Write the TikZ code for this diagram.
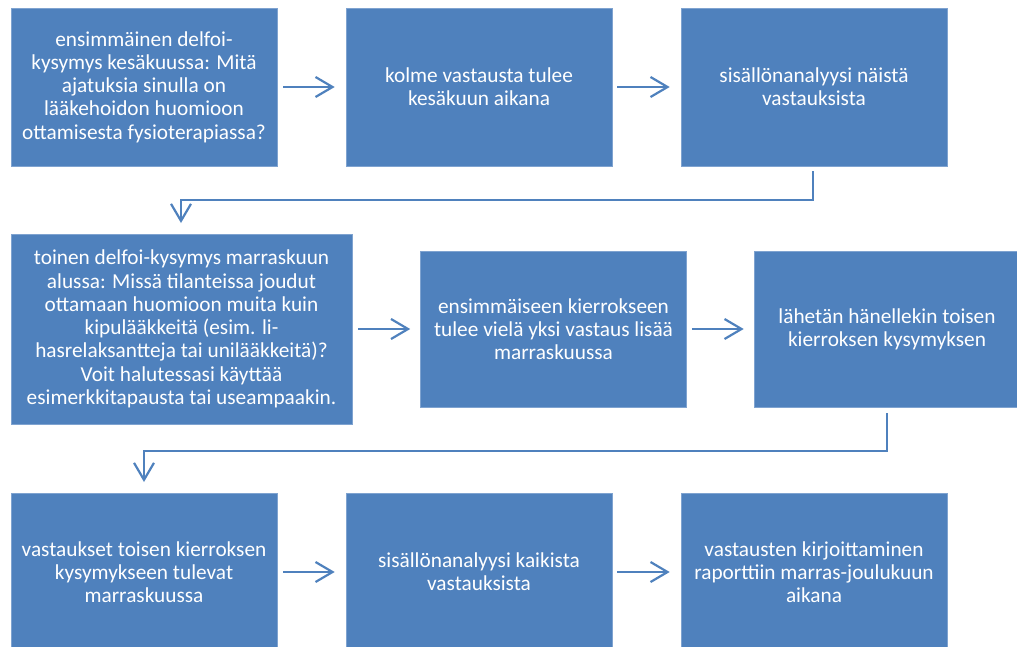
\documentclass[tikz,border=0pt]{standalone}
\usepackage{fontspec}
\setmainfont{Carlito}
\usetikzlibrary{arrows.meta}
\definecolor{boxblue}{HTML}{4F81BD}
\definecolor{boxedge}{HTML}{7FA3D0}
\tikzset{
  flowbox/.style={fill=boxblue, draw=boxedge, line width=0.6pt, text=white, align=center,
    font=\fontsize{21.3}{23.3}\selectfont, inner sep=0pt},
  flowarrow/.style={draw=boxblue, line width=2.2pt, -{Straight Barb[length=17pt,width=20pt,line width=2.2pt]}},
  flowline/.style={draw=boxblue, line width=2.2pt},
}
\begin{document}
\begin{tikzpicture}[x=1pt,y=-1pt]
\useasboundingbox (0,0) rectangle (1017,646);
\begin{scope}
\clip (0,0) rectangle (1017,646);
% row 1
\node[flowbox, minimum width=266pt, minimum height=158pt] (b1) at (144,87) {ensimmäinen delfoi-\\kysymys kesäkuussa: Mitä\\ajatuksia sinulla on\\lääkehoidon huomioon\\ottamisesta fysioterapiassa?};
\node[flowbox, minimum width=266pt, minimum height=158pt] (b2) at (479,87) {kolme vastausta tulee\\kesäkuun aikana};
\node[flowbox, minimum width=266pt, minimum height=158pt] (b3) at (814,87) {sisällönanalyysi näistä\\vastauksista};
% row 2
\node[flowbox, minimum width=341pt, minimum height=190pt] (b4) at (181.5,329) {toinen delfoi-kysymys marraskuun\\alussa: Missä tilanteissa joudut\\ottamaan huomioon muita kuin\\kipulääkkeitä (esim. li-\\hasrelaksantteja tai unilääkkeitä)?\\Voit halutessasi käyttää\\esimerkkitapausta tai useampaakin.};
\node[flowbox, minimum width=266pt, minimum height=156pt] (b5) at (553.5,329) {ensimmäiseen kierrokseen\\tulee vielä yksi vastaus lisää\\marraskuussa};
\node[flowbox, minimum width=266pt, minimum height=156pt] (b6) at (887,329) {lähetän hänellekin toisen\\kierroksen kysymyksen};
% row 3
\node[flowbox, minimum width=266pt, minimum height=158pt] (b7) at (144,572) {vastaukset toisen kierroksen\\kysymykseen tulevat\\marraskuussa};
\node[flowbox, minimum width=266pt, minimum height=158pt] (b8) at (479,572) {sisällönanalyysi kaikista\\vastauksista};
\node[flowbox, minimum width=266pt, minimum height=158pt] (b9) at (814,572) {vastausten kirjoittaminen\\raporttiin marras-joulukuun\\aikana};
\end{scope}
% arrows row 1
\draw[flowarrow] ([xshift=6pt]b1.east) -- ([xshift=-11pt]b2.west);
\draw[flowarrow] ([xshift=5pt]b2.east) -- ([xshift=-11pt]b3.west);
% elbow 1
\coordinate (e1a) at (813,172);
\coordinate (e1b) at (813,200);
\coordinate (e1c) at (181,200);
\coordinate (e1d) at (181,223);
\draw[flowline, line cap=rect] (e1a) -- (e1b) -- (e1c);
\draw[flowarrow] (e1c) -- (e1d);
% arrows row 2
\draw[flowarrow] ([xshift=6pt]b4.east) -- ([xshift=-10pt]b5.west);
\draw[flowarrow] ([xshift=5pt]b5.east) -- ([xshift=-10pt]b6.west);
% elbow 2
\coordinate (e2a) at (887,414);
\coordinate (e2b) at (887,451);
\coordinate (e2c) at (144,451);
\coordinate (e2d) at (144,482);
\draw[flowline, line cap=rect] (e2a) -- (e2b) -- (e2c);
\draw[flowarrow] (e2c) -- (e2d);
% arrows row 3
\draw[flowarrow] ([xshift=6pt]b7.east) -- ([xshift=-11pt]b8.west);
\draw[flowarrow] ([xshift=5pt]b8.east) -- ([xshift=-11pt]b9.west);
\end{tikzpicture}
\end{document}
